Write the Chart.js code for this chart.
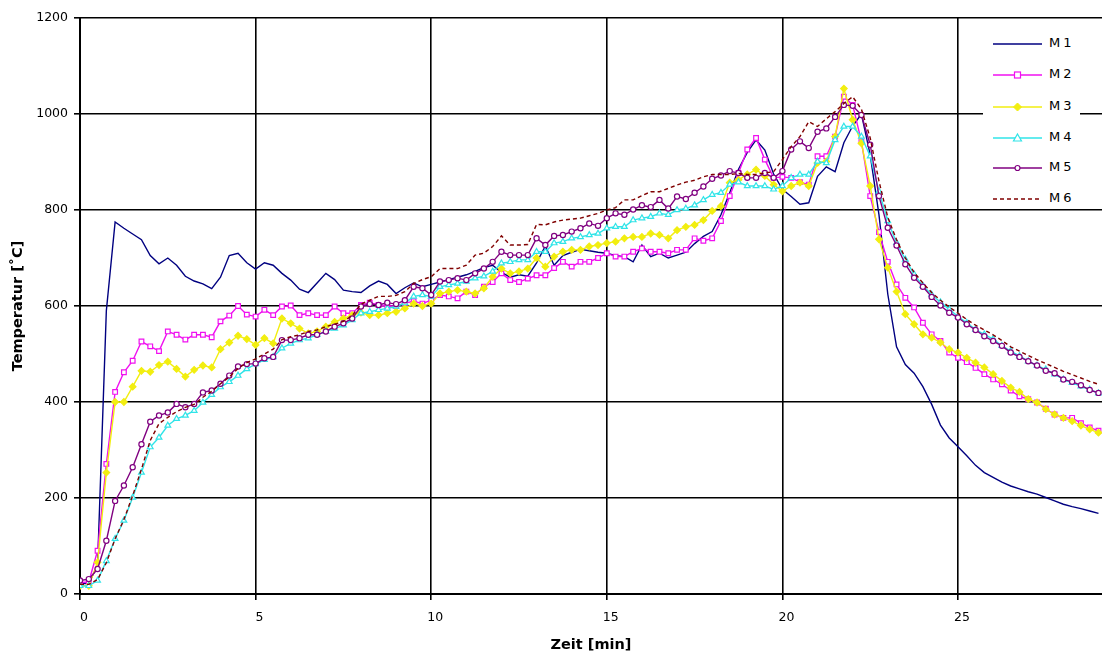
<!DOCTYPE html>
<html>
<head>
<meta charset="utf-8">
<title>Temperatur M1-M6</title>
<script src="https://cdn.jsdelivr.net/npm/chart.js@4.4.1/dist/chart.umd.min.js"></script>
<style>
	body { margin: 0; background: #fff; }
	#wrap { position: relative; width: 1102px; height: 659px; }
	#legend { position: absolute; left: 983px; top: 20px; width: 97px; height: 186px; background: #fff; }
	.leg-item { position: absolute; left: 10px; height: 14px; }
	.leg-item svg { position: absolute; left: 0; top: 1px; }
	.leg-item span { position: absolute; left: 56px; top: -2px; font: 13px "DejaVu Sans", sans-serif; letter-spacing: 3px; color: #000; white-space: nowrap; }
</style>
</head>
<body>
<div id="wrap">
	<canvas id="chartTemp" width="1102" height="659"></canvas>
	<div id="legend"></div>
</div>
<script>
// time axis [min], one sample every 15 s
const times = [
	0, 0.25, 0.5, 0.75, 1, 1.25, 1.5, 1.75, 2, 2.25, 2.5, 2.75, 3, 3.25, 3.5, 3.75, 4, 4.25, 4.5, 4.75,
	5, 5.25, 5.5, 5.75, 6, 6.25, 6.5, 6.75, 7, 7.25, 7.5, 7.75, 8, 8.25, 8.5, 8.75, 9, 9.25, 9.5, 9.75,
	10, 10.25, 10.5, 10.75, 11, 11.25, 11.5, 11.75, 12, 12.25, 12.5, 12.75, 13, 13.25, 13.5, 13.75, 14, 14.25, 14.5, 14.75,
	15, 15.25, 15.5, 15.75, 16, 16.25, 16.5, 16.75, 17, 17.25, 17.5, 17.75, 18, 18.25, 18.5, 18.75, 19, 19.25, 19.5, 19.75,
	20, 20.25, 20.5, 20.75, 21, 21.25, 21.5, 21.75, 22, 22.25, 22.5, 22.75, 23, 23.25, 23.5, 23.75, 24, 24.25, 24.5, 24.75,
	25, 25.25, 25.5, 25.75, 26, 26.25, 26.5, 26.75, 27, 27.25, 27.5, 27.75, 28, 28.25, 28.5, 28.75, 29
];

// Temperatur [°C] per Messstelle
const m1 = [
	22, 22, 60, 590, 775, 762, 750, 738, 705, 688, 700, 685, 662, 652, 646, 636, 660, 705, 710, 690,
	677, 690, 685, 668, 654, 635, 628, 648, 668, 655, 633, 630, 628, 642, 652, 645, 626, 638, 648, 640,
	645, 650, 655, 660, 665, 672, 680, 685, 670, 660, 665, 662, 690, 725, 685, 705, 712, 718, 715, 712,
	710, 705, 703, 692, 727, 703, 710, 700, 706, 712, 730, 745, 755, 790, 836, 885, 920, 946, 925, 875,
	843, 828, 812, 815, 870, 890, 880, 940, 975, 1000, 915, 790, 625, 515, 478, 460, 432, 395, 352, 325,
	307, 288, 268, 253, 243, 233, 225, 219, 213, 208, 201, 194, 187, 182, 178, 173, 168
];
const m2 = [
	24, 25, 90, 271, 421, 462, 486, 526, 516, 506, 547, 540, 530, 540, 540, 535, 568, 580, 600, 582,
	578, 592, 581, 599, 601, 581, 585, 581, 581, 599, 585, 585, 602, 607, 602, 600, 600, 606, 610, 605,
	612, 623, 620, 616, 630, 623, 640, 650, 668, 654, 650, 657, 664, 664, 679, 692, 682, 692, 692, 700,
	710, 703, 703, 713, 720, 713, 713, 710, 717, 717, 741, 736, 741, 777, 829, 877, 926, 950, 905, 867,
	869, 867, 858, 853, 912, 912, 953, 1036, 1019, 943, 829, 754, 692, 645, 617, 597, 565, 541, 527, 503,
	492, 483, 471, 458, 447, 437, 424, 412, 406, 399, 386, 374, 367, 367, 356, 347, 340
];
const m3 = [
	17, 17, 66, 253, 400, 400, 432, 465, 463, 477, 484, 469, 453, 467, 476, 472, 510, 524, 538, 531,
	519, 533, 522, 574, 564, 553, 543, 547, 557, 567, 574, 581, 586, 581, 581, 585, 588, 595, 605, 600,
	605, 626, 630, 633, 630, 626, 637, 661, 678, 668, 672, 678, 700, 682, 703, 713, 717, 717, 724, 727,
	731, 734, 741, 744, 744, 751, 748, 741, 758, 765, 769, 779, 798, 808, 857, 863, 874, 884, 871, 853,
	839, 850, 857, 850, 898, 901, 953, 1053, 988, 939, 850, 739, 680, 630, 583, 562, 541, 534, 524, 510,
	503, 492, 482, 472, 458, 444, 430, 421, 406, 399, 385, 374, 367, 360, 351, 343, 336
];
const m4 = [
	17, 17, 28, 69, 115, 153, 201, 253, 306, 326, 351, 365, 372, 382, 399, 415, 431, 442, 455, 469,
	479, 488, 494, 512, 522, 529, 533, 540, 547, 553, 560, 571, 585, 588, 592, 595, 599, 606, 620, 623,
	620, 640, 644, 647, 651, 658, 662, 672, 689, 692, 696, 696, 713, 713, 731, 734, 741, 744, 748, 751,
	762, 765, 765, 779, 783, 786, 793, 790, 800, 803, 810, 821, 832, 836, 853, 858, 850, 850, 850, 843,
	850, 867, 874, 874, 901, 898, 946, 974, 974, 953, 912, 839, 777, 732, 697, 666, 642, 624, 608, 593,
	578, 565, 551, 541, 531, 517, 506, 496, 485, 476, 468, 458, 447, 440, 433, 426, 418
];
const m5 = [
	28, 31, 52, 111, 194, 226, 264, 312, 359, 372, 378, 396, 389, 396, 420, 424, 438, 455, 474, 479,
	480, 491, 494, 529, 529, 533, 540, 540, 547, 557, 564, 574, 599, 604, 602, 607, 604, 612, 640, 637,
	623, 651, 654, 658, 654, 668, 678, 692, 713, 706, 706, 706, 741, 727, 746, 748, 755, 762, 772, 767,
	783, 793, 790, 801, 810, 806, 821, 803, 828, 823, 836, 849, 865, 872, 881, 877, 867, 867, 877, 867,
	881, 926, 943, 929, 963, 970, 994, 1019, 1017, 998, 936, 829, 763, 726, 687, 659, 640, 619, 601, 586,
	576, 562, 550, 537, 527, 517, 503, 494, 485, 476, 465, 460, 447, 442, 435, 425, 419
];
const m6 = [
	20, 20, 30, 65, 115, 155, 205, 260, 320, 355, 368, 380, 389, 395, 410, 422, 438, 452, 470, 482,
	490, 500, 510, 530, 536, 540, 547, 550, 557, 562, 568, 580, 604, 612, 620, 620, 622, 630, 647, 655,
	661, 678, 678, 678, 685, 706, 710, 724, 746, 727, 727, 728, 770, 769, 775, 779, 781, 783, 788, 793,
	800, 805, 821, 821, 830, 838, 838, 845, 852, 858, 862, 869, 874, 874, 874, 876, 874, 874, 877, 880,
	905, 932, 953, 984, 974, 990, 1005, 1022, 1036, 1010, 950, 860, 785, 738, 700, 670, 648, 628, 612, 598,
	585, 572, 560, 550, 540, 528, 515, 506, 497, 488, 480, 472, 464, 457, 450, 443, 437
];

const xTickValues = [0, 5, 10, 15, 20, 25];
const yTickValues = [0, 200, 400, 600, 800, 1000, 1200];

const seriesNames = ["M1", "M2", "M3", "M4", "M5", "M6"];
const seriesValues = [m1, m2, m3, m4, m5, m6];

// line colour, marker style, marker fill, dash
const seriesStyle = [
	{ color: "#000080", point: false, fill: "#fff", dash: [] },
	{ color: "#f010f0", point: "rect", fill: "#fff", dash: [] },
	{ color: "#f2ee10", point: "rectRot", fill: "#f2ee10", dash: [] },
	{ color: "#30e4e8", point: "triangle", fill: "#fff", dash: [] },
	{ color: "#800080", point: "circle", fill: "#fff", dash: [] },
	{ color: "#800000", point: false, fill: "#fff", dash: [4, 3] },
];

const fontFamily = '"DejaVu Sans", "Liberation Sans", sans-serif';

const datasets = seriesNames.map((name, i) => {
	const st = seriesStyle[i];
	return {
		label: name,
		data: times.map((t, k) => ({ x: t, y: seriesValues[i][k] })),
		borderColor: st.color,
		borderWidth: 1.4,
		borderDash: st.dash,
		pointStyle: st.point || "circle",
		pointRadius: st.point ? (st.point === "circle" ? 2.6 : 3.3) : 0,
		pointBorderWidth: 1.2,
		pointBorderColor: st.color,
		pointBackgroundColor: st.fill,
		tension: 0,
		order: seriesNames.length - i,
	};
});

const ctx = document.getElementById("chartTemp");
const chartTemp = new Chart(ctx, {
	type: "line",
	data: { datasets: datasets },
	options: {
		responsive: false,
		animation: false,
		layout: { autoPadding: false, padding: { top: 18, right: 0, bottom: 0, left: 0 } },
		plugins: { legend: { display: false }, tooltip: { enabled: false } },
		scales: {
			x: {
				type: "linear",
				min: 0,
				max: 29.1,
				afterBuildTicks: (s) => { s.ticks = xTickValues.map((v) => ({ value: v })); },
				afterFit: (s) => { s.height = 65; },
				grid: { color: "#000", lineWidth: 1.6, tickLength: 6 },
				border: { color: "#000", width: 2 },
				ticks: {
					color: "#000",
					font: { family: fontFamily, size: 12.5 },
					padding: 10,
					maxRotation: 0,
					labelOffset: 4,
					callback: (v) => String(v),
				},
				title: {
					display: true,
					text: "Zeit [min]",
					color: "#000",
					font: { family: fontFamily, size: 14.5, weight: "bold" },
					padding: { top: 0, bottom: 5 },
				},
			},
			y: {
				min: 0,
				max: 1200,
				afterBuildTicks: (s) => { s.ticks = yTickValues.map((v) => ({ value: v })); },
				afterFit: (s) => { s.width = 80; },
				grid: { color: "#000", lineWidth: 1.6, tickLength: 6 },
				border: { color: "#000", width: 2 },
				ticks: {
					color: "#000",
					font: { family: fontFamily, size: 12.5 },
					padding: 6,
					callback: (v) => String(v),
				},
				title: {
					display: true,
					text: "Temperatur [˚C]",
					color: "#000",
					font: { family: fontFamily, size: 14.5, weight: "bold" },
					padding: { top: 10, bottom: 0 },
				},
			},
		},
	},
});

// Legend (white box in the upper right corner, like the original)
const legendEl = document.getElementById("legend");
const rowTops = [17, 48, 80, 111, 141, 172];
seriesNames.forEach((name, i) => {
	const st = seriesStyle[i];
	let marker = "";
	if (st.point === "rect")
		marker = `<rect x="21.5" y="3" width="6" height="6" fill="${st.fill}" stroke="${st.color}" stroke-width="1.2"/>`;
	else if (st.point === "rectRot")
		marker = `<polygon points="24.5,2 28.5,6 24.5,10 20.5,6" fill="${st.fill}" stroke="${st.color}" stroke-width="1"/>`;
	else if (st.point === "triangle")
		marker = `<polygon points="24.5,2 28.5,9 20.5,9" fill="${st.fill}" stroke="${st.color}" stroke-width="1.2"/>`;
	else if (st.point === "circle")
		marker = `<circle cx="24.5" cy="6" r="2.5" fill="${st.fill}" stroke="${st.color}" stroke-width="1.2"/>`;
	const dash = st.dash.length ? `stroke-dasharray="${st.dash.join(",")}"` : "";
	legendEl.innerHTML += `<div class="leg-item" style="top:${rowTops[i]}px"><svg width="50" height="12"><line x1="0" y1="6" x2="49" y2="6" stroke="${st.color}" stroke-width="1.4" ${dash}/>${marker}</svg><span>${name}</span></div>`;
});
</script>
</body>
</html>
